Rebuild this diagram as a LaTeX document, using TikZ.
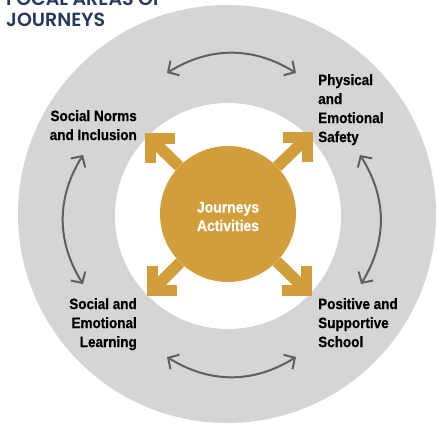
\documentclass[tikz,border=0pt]{standalone}
\usepackage{fontspec}
\setmainfont{Liberation Sans}
\newfontfamily\areafont[FakeStretch=0.9,BoldFeatures={FakeBold=0.6}]{Liberation Sans}
\newfontfamily\titlefont[BoldFont={Poppins SemiBold}]{Poppins}
\usetikzlibrary{arrows.meta}
\definecolor{ringgrey}{HTML}{D4D5D7}
\definecolor{jgold}{HTML}{D29D3B}
\definecolor{titleblue}{HTML}{23395D}
\definecolor{arcgrey}{HTML}{606060}
\tikzstyle{area}=[inner sep=0pt, text=black, font=\areafont\bfseries\fontsize{15}{19}\selectfont]
\tikzstyle{pairarrow}=[draw=arcgrey, line width=2pt, {Straight Barb[length=8pt,width=17pt]}-{Straight Barb[length=8pt,width=17pt]}]
\tikzstyle{goldshaft}=[draw=jgold, line width=11.5pt]
\tikzstyle{goldbarb}=[draw=jgold, line width=11pt, line join=miter]
\newcommand{\areanode}{\node[area]}

\begin{document}
\begin{tikzpicture}[x=1pt,y=1pt]
        \useasboundingbox (0,0) rectangle (437,-425);
        \clip (0,0) rectangle (437,-425);
        \fill[ringgrey] (227,-214) circle (209); % outer ring
        \fill[white] (228,-216) circle (113);
        \node[circle, fill=jgold, minimum size=136pt, inner sep=0pt] (act) at (228,-214) {};
        \areanode[text=white, align=center, font=\areafont\bfseries\fontsize{15.5}{18.5}\selectfont, yshift=-2.5pt] (acttext) at (act) {Journeys\\Activities};
        % gold arrows
        \coordinate (tl) at (150.5,-138.5);
        \coordinate (tr) at (307.5,-137.5);
        \coordinate (bl) at (152.5,-290.5);
        \coordinate (br) at (306.5,-290.5);
        \draw[goldshaft] (act) -- (tl);
        \draw[goldshaft] (act) -- (tr);
        \draw[goldshaft] (act) -- (bl);
        \draw[goldshaft] (act) -- (br);
        \draw[goldbarb] ([xshift=24.5pt]tl) -- (tl) -- ([yshift=-24.5pt]tl);
        \draw[goldbarb] ([xshift=-24.5pt]tr) -- (tr) -- ([yshift=-24.5pt]tr);
        \draw[goldbarb] ([xshift=24.5pt]bl) -- (bl) -- ([yshift=24.5pt]bl);
        \draw[goldbarb] ([xshift=-24.5pt]br) -- (br) -- ([yshift=24.5pt]br);
        % focal areas
        \areanode[anchor=north east, align=right] (norms) at (137,-110) {Social Norms\\and Inclusion};
        \areanode[anchor=north west, align=left] (safety) at (318,-74) {Physical\\and\\Emotional\\Safety};
        \areanode[anchor=north east, align=right] (sel) at (137,-298) {Social and\\Emotional\\Learning};
        \areanode[anchor=north west, align=left] (school) at (318,-298) {Positive and\\Supportive\\School};
        % links between areas
        \coordinate (t1) at (167,-73);
        \coordinate (t2) at (296,-73);
        \coordinate (r1) at (360,-155);
        \coordinate (r2) at (361,-284);
        \coordinate (b1) at (296,-357);
        \coordinate (b2) at (167,-357);
        \coordinate (l1) at (83,-284);
        \coordinate (l2) at (83,-155);
        \draw[pairarrow] (t1) to[bend left=32] (t2);
        \draw[pairarrow] (r1) to[bend left=32] (r2);
        \draw[pairarrow] (b1) to[bend left=32] (b2);
        \draw[pairarrow] (l1) to[bend left=32] (l2);
        \node[anchor=south west, inner sep=0pt, align=left, text=titleblue,
              font=\titlefont\bfseries\fontsize{19}{21}\selectfont] (title) at (6,-27) {FOCAL AREAS OF\\JOURNEYS};
\end{tikzpicture}
\end{document}
